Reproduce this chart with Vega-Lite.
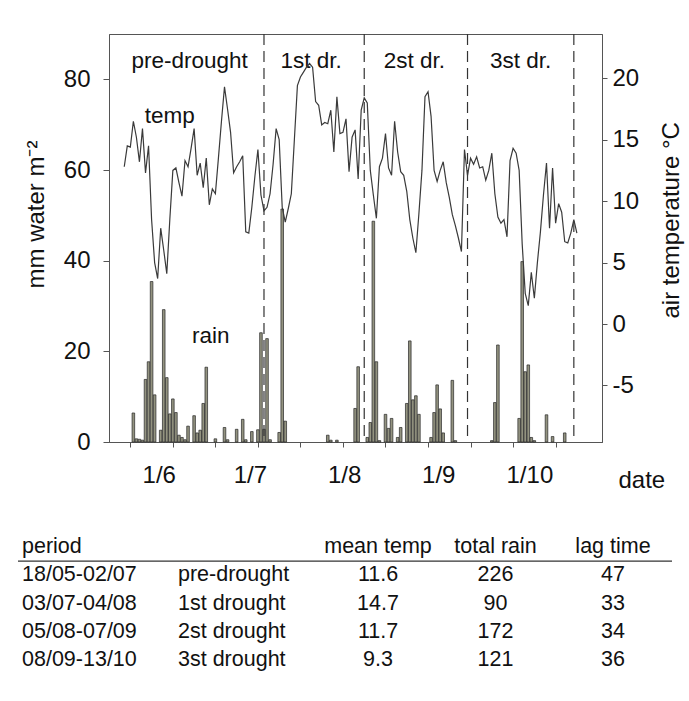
{
"$schema": "https://vega.github.io/schema/vega-lite/v6.json",
"width": 493,
"height": 408,
"autosize": {"type": "none"},
"padding": {"left": 109, "top": 34, "right": 87, "bottom": 259},
"background": "white",
"config": {
  "font": "Liberation Sans",
  "view": {"stroke": "#555", "strokeWidth": 1},
  "axis": {"domainColor": "#555", "tickColor": "#555", "labelColor": "#111", "titleColor": "#111", "labelFont": "Liberation Sans", "titleFont": "Liberation Sans", "titleFontWeight": "normal", "grid": false, "labelFontSize": 24, "titleFontSize": 24, "labelFlush": false, "labelOverlap": false}
},
"datasets": {
  "temp": [
    {"date":"2007-05-18","temp":12.8},{"date":"2007-05-19","temp":14.5},{"date":"2007-05-20","temp":14.4},{"date":"2007-05-21","temp":16.5},{"date":"2007-05-22","temp":15.2},{"date":"2007-05-23","temp":13.2},{"date":"2007-05-24","temp":15.9},{"date":"2007-05-25","temp":12.3},{"date":"2007-05-26","temp":14.5},{"date":"2007-05-27","temp":8.5},{"date":"2007-05-28","temp":5.0},{"date":"2007-05-29","temp":3.7},{"date":"2007-05-30","temp":7.8},{"date":"2007-05-31","temp":6.0},
    {"date":"2007-06-01","temp":4.1},{"date":"2007-06-02","temp":8.5},{"date":"2007-06-03","temp":12.5},{"date":"2007-06-04","temp":12.7},{"date":"2007-06-05","temp":11.5},{"date":"2007-06-06","temp":10.4},{"date":"2007-06-07","temp":13.3},{"date":"2007-06-08","temp":12.8},{"date":"2007-06-09","temp":14.3},{"date":"2007-06-10","temp":15.9},{"date":"2007-06-11","temp":12.1},{"date":"2007-06-12","temp":13.1},{"date":"2007-06-13","temp":11.1},{"date":"2007-06-14","temp":13.5},{"date":"2007-06-15","temp":9.7},{"date":"2007-06-16","temp":11.0},{"date":"2007-06-17","temp":10.6},{"date":"2007-06-18","temp":13.5},{"date":"2007-06-19","temp":16.5},{"date":"2007-06-20","temp":19.3},{"date":"2007-06-21","temp":17.5},{"date":"2007-06-22","temp":15.6},{"date":"2007-06-23","temp":12.3},{"date":"2007-06-24","temp":12.8},{"date":"2007-06-25","temp":13.2},{"date":"2007-06-26","temp":13.7},{"date":"2007-06-27","temp":7.5},{"date":"2007-06-28","temp":7.4},{"date":"2007-06-29","temp":9.5},{"date":"2007-06-30","temp":12.0},
    {"date":"2007-07-01","temp":14.2},{"date":"2007-07-02","temp":10.5},{"date":"2007-07-03","temp":9.2},{"date":"2007-07-04","temp":9.5},{"date":"2007-07-05","temp":10.6},{"date":"2007-07-06","temp":13.0},{"date":"2007-07-07","temp":15.9},{"date":"2007-07-08","temp":15.0},{"date":"2007-07-09","temp":9.5},{"date":"2007-07-10","temp":8.3},{"date":"2007-07-11","temp":9.4},{"date":"2007-07-12","temp":10.6},{"date":"2007-07-13","temp":15.0},{"date":"2007-07-14","temp":19.4},{"date":"2007-07-15","temp":20.1},{"date":"2007-07-16","temp":20.5},{"date":"2007-07-17","temp":20.9},{"date":"2007-07-18","temp":21.2},{"date":"2007-07-19","temp":20.9},{"date":"2007-07-20","temp":18.1},{"date":"2007-07-21","temp":17.8},{"date":"2007-07-22","temp":16.2},{"date":"2007-07-23","temp":16.4},{"date":"2007-07-24","temp":16.3},{"date":"2007-07-25","temp":17.4},{"date":"2007-07-26","temp":14.0},{"date":"2007-07-27","temp":18.5},{"date":"2007-07-28","temp":15.5},{"date":"2007-07-29","temp":15.6},{"date":"2007-07-30","temp":16.7},{"date":"2007-07-31","temp":12.4},
    {"date":"2007-08-01","temp":15.2},{"date":"2007-08-02","temp":15.8},{"date":"2007-08-03","temp":11.8},{"date":"2007-08-04","temp":17.4},{"date":"2007-08-05","temp":18.4},{"date":"2007-08-06","temp":18.0},{"date":"2007-08-07","temp":12.5},{"date":"2007-08-08","temp":10.5},{"date":"2007-08-09","temp":8.6},{"date":"2007-08-10","temp":12.8},{"date":"2007-08-11","temp":13.5},{"date":"2007-08-12","temp":15.5},{"date":"2007-08-13","temp":12.7},{"date":"2007-08-14","temp":12.1},{"date":"2007-08-15","temp":16.5},{"date":"2007-08-16","temp":14.0},{"date":"2007-08-17","temp":12.4},{"date":"2007-08-18","temp":12.1},{"date":"2007-08-19","temp":10.8},{"date":"2007-08-20","temp":8.5},{"date":"2007-08-21","temp":7.0},{"date":"2007-08-22","temp":5.8},{"date":"2007-08-23","temp":9.0},{"date":"2007-08-24","temp":12.5},{"date":"2007-08-25","temp":18.5},{"date":"2007-08-26","temp":18.9},{"date":"2007-08-27","temp":16.9},{"date":"2007-08-28","temp":12.5},{"date":"2007-08-29","temp":11.6},{"date":"2007-08-30","temp":12.5},{"date":"2007-08-31","temp":13.2},
    {"date":"2007-09-01","temp":11.5},{"date":"2007-09-02","temp":10.3},{"date":"2007-09-03","temp":8.9},{"date":"2007-09-04","temp":8.0},{"date":"2007-09-05","temp":7.0},{"date":"2007-09-06","temp":5.9},{"date":"2007-09-07","temp":14.2},{"date":"2007-09-08","temp":12.1},{"date":"2007-09-09","temp":13.5},{"date":"2007-09-10","temp":13.0},{"date":"2007-09-11","temp":13.6},{"date":"2007-09-12","temp":12.7},{"date":"2007-09-13","temp":12.8},{"date":"2007-09-14","temp":11.7},{"date":"2007-09-15","temp":12.5},{"date":"2007-09-16","temp":13.9},{"date":"2007-09-17","temp":10.6},{"date":"2007-09-18","temp":8.7},{"date":"2007-09-19","temp":8.2},{"date":"2007-09-20","temp":8.5},{"date":"2007-09-21","temp":7.1},{"date":"2007-09-22","temp":13.3},{"date":"2007-09-23","temp":14.3},{"date":"2007-09-24","temp":13.9},{"date":"2007-09-25","temp":12.5},{"date":"2007-09-26","temp":6.5},{"date":"2007-09-27","temp":2.5},{"date":"2007-09-28","temp":1.5},{"date":"2007-09-29","temp":4.2},{"date":"2007-09-30","temp":2.1},
    {"date":"2007-10-01","temp":5.0},{"date":"2007-10-02","temp":7.5},{"date":"2007-10-03","temp":10.5},{"date":"2007-10-04","temp":13.1},{"date":"2007-10-05","temp":7.8},{"date":"2007-10-06","temp":12.7},{"date":"2007-10-07","temp":8.2},{"date":"2007-10-08","temp":9.8},{"date":"2007-10-09","temp":9.1},{"date":"2007-10-10","temp":6.7},{"date":"2007-10-11","temp":6.6},{"date":"2007-10-12","temp":7.4},{"date":"2007-10-13","temp":8.5},{"date":"2007-10-14","temp":7.4}
  ],
  "rain": [
    {"date":"2007-05-21","rain":6.4},{"date":"2007-05-22","rain":0.7},{"date":"2007-05-23","rain":0.6},{"date":"2007-05-24","rain":0.4},{"date":"2007-05-25","rain":13.8},{"date":"2007-05-26","rain":17.7},{"date":"2007-05-27","rain":35.4},{"date":"2007-05-28","rain":10.4},{"date":"2007-05-30","rain":2.6},{"date":"2007-05-31","rain":29.2},
    {"date":"2007-06-01","rain":14.2},{"date":"2007-06-02","rain":6.2},{"date":"2007-06-03","rain":9.5},{"date":"2007-06-04","rain":6.5},{"date":"2007-06-05","rain":1.5},{"date":"2007-06-06","rain":1.0},{"date":"2007-06-07","rain":0.5},{"date":"2007-06-08","rain":3.5},{"date":"2007-06-10","rain":5.8},{"date":"2007-06-11","rain":2.0},{"date":"2007-06-12","rain":2.6},{"date":"2007-06-13","rain":8.5},{"date":"2007-06-14","rain":16.5},{"date":"2007-06-17","rain":0.7},{"date":"2007-06-20","rain":3.2},{"date":"2007-06-21","rain":0.5},{"date":"2007-06-24","rain":2.8},{"date":"2007-06-26","rain":5.0},{"date":"2007-06-27","rain":0.5},{"date":"2007-06-29","rain":2.3},
    {"date":"2007-07-01","rain":2.7},{"date":"2007-07-02","rain":24.1},{"date":"2007-07-03","rain":2.8},{"date":"2007-07-04","rain":22.8},{"date":"2007-07-05","rain":0.5},{"date":"2007-07-08","rain":2.1},{"date":"2007-07-09","rain":51.4},{"date":"2007-07-10","rain":4.6},{"date":"2007-07-24","rain":1.5},{"date":"2007-07-25","rain":0.4},{"date":"2007-07-27","rain":0.4},
    {"date":"2007-08-02","rain":7.4},{"date":"2007-08-03","rain":16.6},{"date":"2007-08-06","rain":1.0},{"date":"2007-08-07","rain":4.3},{"date":"2007-08-08","rain":48.7},{"date":"2007-08-09","rain":17.7},{"date":"2007-08-10","rain":0.3},{"date":"2007-08-12","rain":6.1},{"date":"2007-08-13","rain":3.0},{"date":"2007-08-14","rain":5.2},{"date":"2007-08-16","rain":1.0},{"date":"2007-08-17","rain":3.2},{"date":"2007-08-19","rain":8.5},{"date":"2007-08-20","rain":22.3},{"date":"2007-08-21","rain":9.3},{"date":"2007-08-22","rain":10.2},{"date":"2007-08-23","rain":6.1},{"date":"2007-08-27","rain":1.0},{"date":"2007-08-28","rain":6.5},{"date":"2007-08-29","rain":12.6},{"date":"2007-08-30","rain":7.3},{"date":"2007-08-31","rain":2.0},
    {"date":"2007-09-03","rain":13.6},{"date":"2007-09-04","rain":0.3},{"date":"2007-09-16","rain":0.3},{"date":"2007-09-17","rain":8.7},{"date":"2007-09-18","rain":21.4},{"date":"2007-09-25","rain":5.2},{"date":"2007-09-26","rain":39.8},{"date":"2007-09-27","rain":15.5},{"date":"2007-09-28","rain":17.0},{"date":"2007-09-29","rain":1.0},{"date":"2007-09-30","rain":0.3},
    {"date":"2007-10-04","rain":6.0},{"date":"2007-10-06","rain":1.2},{"date":"2007-10-10","rain":2.0}
  ],
  "periods": [
    {"period":"1st drought","start":"2007-07-03"},
    {"period":"2st drought","start":"2007-08-05"},
    {"period":"3st drought","start":"2007-09-08"},
    {"period":"end","start":"2007-10-13"}
  ],
  "notes": [
    {"label":"pre-drought","date":"2007-06-08T12:00Z","value":84},
    {"label":"1st dr.","date":"2007-07-18T12:00Z","value":84},
    {"label":"2st dr.","date":"2007-08-21T12:00Z","value":84},
    {"label":"3st dr.","date":"2007-09-25T12:00Z","value":84},
    {"label":"temp","date":"2007-06-02T00:00Z","value":72},
    {"label":"rain","date":"2007-06-15T12:00Z","value":23.4}
  ],
  "table": [
    {"row":0,"period":"period","name":"","meanTemp":"mean temp","totalRain":"total rain","lagTime":"lag time"},
    {"row":1,"period":"18/05-02/07","name":"pre-drought","meanTemp":"11.6","totalRain":"226","lagTime":"47"},
    {"row":2,"period":"03/07-04/08","name":"1st drought","meanTemp":"14.7","totalRain":"90","lagTime":"33"},
    {"row":3,"period":"05/08-07/09","name":"2st drought","meanTemp":"11.7","totalRain":"172","lagTime":"34"},
    {"row":4,"period":"08/09-13/10","name":"3st drought","meanTemp":"9.3","totalRain":"121","lagTime":"36"}
  ]
},
"layer": [
  {
    "layer": [
      {
        "layer": [
          {
            "data": {"name": "rain"},
            "mark": {"type": "bar", "width": 2.6, "fill": "#939380", "stroke": "#262626", "strokeWidth": 0.7},
            "encoding": {
              "x": {"field": "date", "type": "temporal",
                "scale": {"type": "utc", "domain": [{"year": 2007, "month": 5, "date": 14, "hours": 15, "utc": true}, {"year": 2007, "month": 10, "date": 20, "hours": 15, "utc": true}]},
                "axis": {"orient": "bottom", "values": [
                  {"year":2007,"month":5,"date":20,"utc":true},{"year":2007,"month":5,"date":27,"utc":true},{"year":2007,"month":6,"date":3,"utc":true},{"year":2007,"month":6,"date":10,"utc":true},{"year":2007,"month":6,"date":17,"utc":true},{"year":2007,"month":6,"date":24,"utc":true},{"year":2007,"month":7,"date":1,"utc":true},{"year":2007,"month":7,"date":8,"utc":true},{"year":2007,"month":7,"date":15,"utc":true},{"year":2007,"month":7,"date":22,"utc":true},{"year":2007,"month":7,"date":29,"utc":true},{"year":2007,"month":8,"date":5,"utc":true},{"year":2007,"month":8,"date":12,"utc":true},{"year":2007,"month":8,"date":19,"utc":true},{"year":2007,"month":8,"date":26,"utc":true},{"year":2007,"month":9,"date":2,"utc":true},{"year":2007,"month":9,"date":9,"utc":true},{"year":2007,"month":9,"date":16,"utc":true},{"year":2007,"month":9,"date":23,"utc":true},{"year":2007,"month":9,"date":30,"utc":true},{"year":2007,"month":10,"date":7,"utc":true},{"year":2007,"month":10,"date":14,"utc":true}],
                  "labels": false, "ticks": true, "tickSize": 5, "domain": true, "title": null}},
              "y": {"field": "rain", "type": "quantitative",
                "scale": {"domain": [0, 90], "nice": false, "zero": true},
                "axis": {"orient": "left", "values": [0, 20, 40, 60, 80], "tickSize": 6, "labelPadding": 13, "title": "mm water m⁻²", "titleAngle": -90, "titleX": -66, "titleY": 254, "titleAlign": "left", "titleBaseline": "alphabetic"}}
            }
          },
          {
            "data": {"name": "periods"},
            "mark": {"type": "rule", "stroke": "#333", "strokeWidth": 1.2, "strokeDash": [11, 6]},
            "encoding": {"x": {"field": "start", "type": "temporal"}}
          },
          {
            "data": {"name": "notes"},
            "mark": {"type": "text", "fontSize": 22.5, "color": "#111", "baseline": "middle", "align": "center"},
            "encoding": {
              "x": {"field": "date", "type": "temporal"},
              "y": {"field": "value", "type": "quantitative"},
              "text": {"field": "label"}
            }
          }
        ]
      },
      {
        "data": {"name": "temp"},
        "mark": {"type": "line", "stroke": "#3a3a3a", "strokeWidth": 1.2},
        "encoding": {
          "x": {"field": "date", "type": "temporal",
            "axis": {"orient": "bottom", "values": [{"year":2007,"month":6,"date":1,"utc":true},{"year":2007,"month":7,"date":1,"utc":true},{"year":2007,"month":8,"date":1,"utc":true},{"year":2007,"month":9,"date":1,"utc":true},{"year":2007,"month":10,"date":1,"utc":true}],
              "labelExpr": "utcFormat(datum.value, '%-d/%-m')", "ticks": false, "domain": false, "labelOffset": -8, "labelPadding": 21,
              "title": "date", "titleX": 509, "titleY": 45, "titleAlign": "left", "titleBaseline": "alphabetic", "titleAnchor": "start"}},
          "y": {"field": "temp", "type": "quantitative",
            "scale": {"domain": [-9.6, 23.6], "nice": false, "zero": false},
            "axis": {"orient": "right", "values": [-5, 0, 5, 10, 15, 20], "labelExpr": "datum.value + ''", "tickSize": 5, "labelPadding": 5, "title": "air temperature °C", "titleAngle": -90, "titleX": 76, "titleY": 284, "titleAlign": "left", "titleBaseline": "alphabetic"}}
        }
      }
    ],
    "resolve": {"scale": {"y": "independent"}, "axis": {"x": "independent"}}
  },
  {
    "data": {"name": "table"},
    "layer": [
      {
        "transform": [{"fold": ["period", "name"]}],
        "mark": {"type": "text", "align": "left", "baseline": "middle", "fontSize": 21.5, "color": "#111"},
        "encoding": {
          "x": {"field": "key", "type": "nominal", "scale": {"type": "point", "domain": ["period", "name"], "range": [-87, 69], "padding": 0}, "axis": null},
          "y": {"field": "row", "type": "quantitative", "scale": {"domain": [0, 4], "range": [513, 626]}, "axis": null},
          "text": {"field": "value"}
        }
      },
      {
        "transform": [{"fold": ["meanTemp", "totalRain", "lagTime"]}],
        "mark": {"type": "text", "align": "center", "baseline": "middle", "fontSize": 21.5, "color": "#111"},
        "encoding": {
          "x": {"field": "key", "type": "nominal", "scale": {"type": "point", "domain": ["meanTemp", "totalRain", "lagTime"], "range": [269, 504], "padding": 0}, "axis": null},
          "y": {"field": "row", "type": "quantitative", "axis": null},
          "text": {"field": "value"}
        }
      },
      {
        "transform": [{"filter": "datum.row == 0"}],
        "mark": {"type": "rule", "stroke": "#333", "strokeWidth": 1.3},
        "encoding": {
          "x": {"datum": 0, "type": "quantitative", "scale": {"domain": [0, 1], "range": [-91, 563]}, "axis": null},
          "x2": {"datum": 1},
          "y": {"datum": 0.5, "type": "quantitative", "axis": null}
        }
      }
    ],
    "resolve": {"scale": {"x": "independent"}}
  }
],
"resolve": {"scale": {"x": "independent", "y": "independent"}}
}
